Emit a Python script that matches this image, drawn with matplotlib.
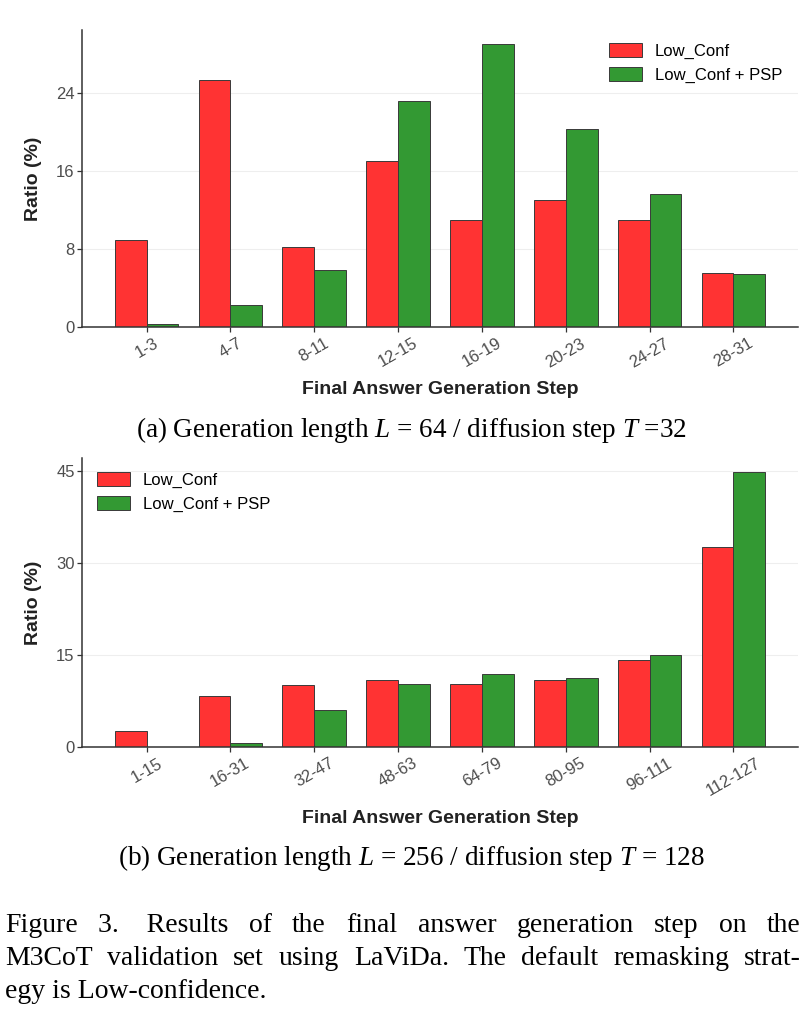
import matplotlib
matplotlib.use("Agg")
import matplotlib.pyplot as plt
import numpy as np


# 數值由參考圖量測
steps_a = ["1-3", "4-7", "8-11", "12-15", "16-19", "20-23", "24-27", "28-31"]
low_conf_a = [8.9, 25.3, 8.2, 17.0, 11.0, 13.0, 11.0, 5.5]
psp_a = [0.35, 2.3, 5.8, 23.2, 29.0, 20.3, 13.6, 5.4]

steps_b = ["1-15", "16-31", "32-47", "48-63", "64-79", "80-95", "96-111", "112-127"]
low_conf_b = [2.6, 8.3, 10.1, 11.0, 10.2, 10.9, 14.2, 32.6]
psp_b = [0.0, 0.6, 6.0, 10.3, 11.9, 11.3, 15.0, 44.9]

yticks_a = [0, 8, 16, 24]
yticks_b = [0, 15, 30, 45]

series_labels = ["Low_Conf", "Low_Conf + PSP"]

caption_a = "(a) Generation length $L$ = 64 / diffusion step $T$ =32"
caption_b = "(b) Generation length $L$ = 256 / diffusion step $T$ = 128"
figure_caption = [
    "Figure 3.  Results of the final answer generation step on the",
    "M3CoT validation set using LaViDa. The default remasking strat-",
    "egy is Low-confidence.",
]

RED = "#FF3333"
GREEN = "#339933"
EDGE = "#3a3a3a"
TICK_GREY = "#4D4D4D"

plt.rcParams["font.family"] = ["Liberation Sans", "DejaVu Sans"]
plt.rcParams["mathtext.fontset"] = "custom"
plt.rcParams["mathtext.it"] = "Liberation Serif:italic"
plt.rcParams["mathtext.rm"] = "Liberation Serif"

W, H = 808, 1024
fig = plt.figure(figsize=(W / 100, H / 100), dpi=100)


def px_box(left, top, right, bottom):
    return [left / W, 1 - bottom / H, (right - left) / W, (bottom - top) / H]


def draw_panel(ax, cats, red_vals, green_vals, yticks, legend_xy):
    x = np.arange(len(cats))
    width = 0.38
    ax.bar(x - width / 2, red_vals, width, color=RED, edgecolor=EDGE,
           linewidth=0.7, label=series_labels[0], zorder=3)
    ax.bar(x + width / 2, green_vals, width, color=GREEN, edgecolor=EDGE,
           linewidth=0.7, label=series_labels[1], zorder=3)

    top = max(max(red_vals), max(green_vals)) * 1.05
    ax.set_ylim(0, top)
    ax.set_xlim(-0.77, len(cats) - 1 + 0.77)
    ax.set_yticks(yticks)
    ax.set_xticks(x)
    ax.set_xticklabels(cats, rotation=30, ha="center")

    for side in ["top", "right"]:
        ax.spines[side].set_visible(False)
    for side in ["left", "bottom"]:
        ax.spines[side].set_color("#333333")
        ax.spines[side].set_linewidth(1.1)
        ax.spines[side].set_zorder(4)

    ax.yaxis.grid(True, color="#EEEEEE", linewidth=0.8, zorder=0)
    ax.set_axisbelow(True)
    ax.tick_params(axis="both", colors="#333333", labelcolor=TICK_GREY,
                   labelsize=12, length=3.3, width=0.9, pad=2)
    ax.tick_params(axis="x", pad=3)

    ax.set_ylabel("Ratio (%)", fontsize=14, fontweight="bold", color="#222222",
                  labelpad=10)
    ax.set_xlabel("Final Answer Generation Step", fontsize=14, fontweight="bold",
                  color="#222222", labelpad=8)

    ax.legend(loc="upper left", bbox_to_anchor=(legend_xy[0] / W, 1 - legend_xy[1] / H),
              bbox_transform=fig.transFigure, frameon=False, fontsize=12,
              handlelength=1.95, handleheight=0.95, handletextpad=0.8,
              labelspacing=0.45, borderpad=0, borderaxespad=0)


ax_a = fig.add_axes(px_box(82, 30, 798, 327))
draw_panel(ax_a, steps_a, low_conf_a, psp_a, yticks_a, (609, 43))

ax_b = fig.add_axes(px_box(82, 458, 798, 747))
draw_panel(ax_b, steps_b, low_conf_b, psp_b, yticks_b, (97, 472))

serif = ["Liberation Serif", "DejaVu Serif"]
fig.text(411 / W, 1 - 430 / H, caption_a, ha="center", va="center",
         fontsize=19.5, family=serif)
fig.text(411 / W, 1 - 858 / H, caption_b, ha="center", va="center",
         fontsize=19.5, family=serif)


def justified_line(text, y, left, right, size, justify=True):
    """把一行字的單字平均攤開到 left..right 之間。"""
    words = text.split(" ")
    if not justify:
        fig.text(left / W, 1 - y / H, text, ha="left", va="baseline",
                 fontsize=size, family=serif)
        return
    renderer = fig.canvas.get_renderer()
    items = []
    total = 0.0
    for w in words:
        t = fig.text(0, 0, w, fontsize=size, family=serif, va="baseline")
        wd = t.get_window_extent(renderer).width
        items.append((t, wd))
        total += wd
    gap = (right - left - total) / max(len(words) - 1, 1)
    cur = left
    for t, wd in items:
        t.set_position((cur / W, 1 - y / H))
        cur += wd + gap


# 圖說第一行 "Figure 3." 後面是兩個空格
first = figure_caption[0].replace("3.  ", "3.\u2003")
justified_line(first, 932, 5, 801, 20)
justified_line(figure_caption[1], 965, 5, 801, 20)
justified_line(figure_caption[2], 998, 5, 801, 20, justify=False)

fig.savefig("out.png", dpi=100)
